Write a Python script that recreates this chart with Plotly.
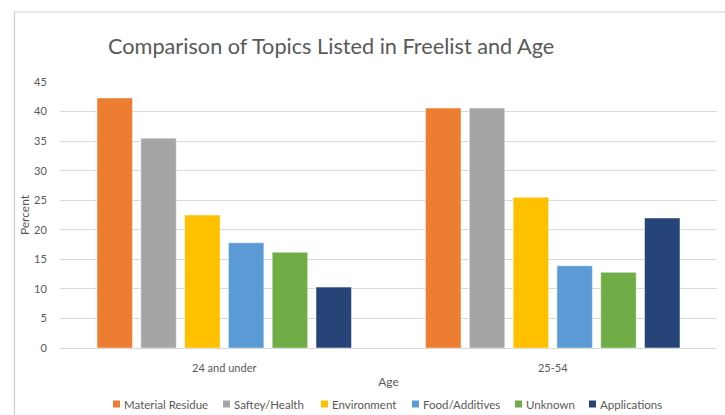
import plotly.graph_objects as go

# Survey results: share of respondents listing each topic, by age group
age_groups = ["24 and under", "25-54"]
topics = ["Material Residue", "Saftey/Health", "Environment",
          "Food/Additives", "Unknown", "Applications"]
percent = {
    "Material Residue": [42.3, 40.6],
    "Saftey/Health": [35.5, 40.6],
    "Environment": [22.5, 25.5],
    "Food/Additives": [17.8, 13.9],
    "Unknown": [16.2, 12.8],
    "Applications": [10.3, 22.0],
}
colors = ["#ED7D31", "#A5A5A5", "#FFC000", "#5B9BD5", "#70AD47", "#264478"]
y_ticks = [0, 5, 10, 15, 20, 25, 30, 35, 40, 45]

FONT = "Lato"
GREY = "#595959"

W, H = 725, 415
L, R, T, B = 60, 8, 82, 67
pw, ph = W - L - R, H - T - B


def px_x(x):
    return (x - L) / pw


def px_y(y):
    return (H - B - y) / ph


fig = go.Figure()
for topic, color in zip(topics, colors):
    fig.add_trace(go.Bar(
        name=topic,
        x=age_groups,
        y=percent[topic],
        marker=dict(color=color, line=dict(color="rgba(255,255,255,0.6)", width=0.8)),
        showlegend=False,
    ))

# chart-area border (top and left edges)
fig.add_shape(type="line", xref="paper", yref="paper",
              x0=px_x(14.5), x1=px_x(W + 5), y0=px_y(12), y1=px_y(12),
              line=dict(color="#D0D0D0", width=1.2))
fig.add_shape(type="line", xref="paper", yref="paper",
              x0=px_x(14.5), x1=px_x(14.5), y0=px_y(12), y1=px_y(H + 5),
              line=dict(color="#D0D0D0", width=1.2))

fig.add_annotation(
    text="Comparison of Topics Listed in Freelist and Age",
    xref="paper", yref="paper", x=px_x(106), y=px_y(46),
    xanchor="left", yanchor="middle", showarrow=False,
    font=dict(family=FONT, size=21.7, color=GREY),
)

# legend row: small colour keys followed by topic names
key_left = [113, 223, 321, 412, 515, 589]
key_y = 404
for topic, color, kx in zip(topics, colors, key_left):
    fig.add_shape(type="rect", xref="paper", yref="paper",
                  x0=px_x(kx), x1=px_x(kx + 7),
                  y0=px_y(key_y - 3.5), y1=px_y(key_y + 3.5),
                  fillcolor=color, line=dict(width=0))
    fig.add_annotation(text=topic, xref="paper", yref="paper",
                       x=px_x(kx + 9), y=px_y(key_y),
                       xanchor="left", yanchor="middle", showarrow=False,
                       font=dict(family=FONT, size=11.5, color=GREY))

fig.update_layout(
    width=W, height=H,
    margin=dict(l=L, r=R, t=T, b=B, pad=0),
    paper_bgcolor="white", plot_bgcolor="white",
    barmode="group", bargap=0.2, bargroupgap=0.19,
    font=dict(family=FONT, size=11, color=GREY),
    showlegend=False,
)
fig.update_xaxes(
    automargin=False,
    title=dict(text="Age", font=dict(size=12, color=GREY), standoff=4),
    showline=True, linecolor="#D9D9D9", linewidth=1,
    ticks="outside", ticklen=10, tickcolor="rgba(0,0,0,0)",
    tickfont=dict(size=11, color=GREY),
)
fig.update_yaxes(
    automargin=False,
    title=dict(text="Percent", font=dict(size=12, color=GREY), standoff=1),
    range=[0, 45], tickvals=y_ticks,
    showgrid=True, gridcolor="#D9D9D9", gridwidth=1,
    zeroline=False,
    ticks="outside", ticklen=10, tickcolor="rgba(0,0,0,0)",
    tickfont=dict(size=11, color=GREY),
)

fig.write_html("out.html")
